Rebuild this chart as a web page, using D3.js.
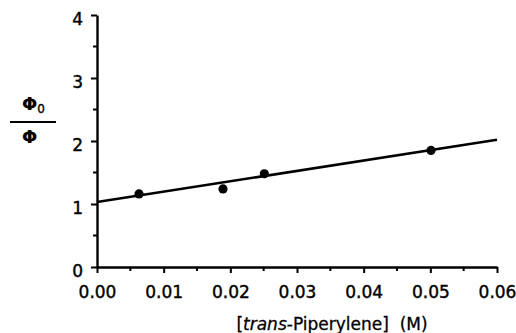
<!DOCTYPE html>
<html>
<head>
<meta charset="utf-8">
<script src="https://cdn.jsdelivr.net/npm/d3@7"></script>
<style>
  body { margin: 0; background: #fff; }
  text { font-family: "DejaVu Sans", Verdana, sans-serif; fill: #000; }
</style>
</head>
<body>
<div id="chart"></div>
<script>
// measured points: [trans-piperylene] (M) vs phi0/phi
const conc = [0.0063, 0.0189, 0.0251, 0.0501];
const ratio = [1.16, 1.24, 1.48, 1.85];

// fitted Stern-Volmer line, read at its two ends
const fitX = [0, 0.06];
const fitY = [1.03, 2.02];

const xTicks = [0, 0.01, 0.02, 0.03, 0.04, 0.05, 0.06];
const xMinor = [0.005, 0.015, 0.025, 0.035, 0.045, 0.055];
const yTicks = [0, 1, 2, 3, 4];
const yMinor = [0.5, 1.5, 2.5, 3.5];

const W = 516, H = 333;
const m = { left: 97, right: 19, top: 15, bottom: 66 };

const svg = d3.select('#chart').append('svg')
  .attr('width', W).attr('height', H);

const x = d3.scaleLinear().domain([0, 0.06]).range([m.left, W - m.right]);
const y = d3.scaleLinear().domain([0, 4]).range([H - m.bottom, m.top]);

const ink = '#000';

// axes
const xAxis = svg.append('g')
  .attr('transform', `translate(0,${y(0)})`)
  .call(d3.axisBottom(x).tickValues(xTicks).tickFormat(d3.format('.2f'))
    .tickSize(6).tickSizeOuter(0).tickPadding(13));

xAxis.append('g').selectAll('line')
  .data(xMinor).join('line')
  .attr('x1', d => x(d)).attr('x2', d => x(d))
  .attr('y1', 0).attr('y2', 4)
  .attr('stroke', ink).attr('stroke-width', 2);

const yAxis = svg.append('g')
  .attr('transform', `translate(${x(0)},0)`)
  .call(d3.axisLeft(y).tickValues(yTicks).tickFormat(d3.format('d'))
    .tickSize(6).tickSizeOuter(0).tickPadding(8));

yAxis.append('g').selectAll('line')
  .data(yMinor).join('line')
  .attr('x1', 0).attr('x2', -4)
  .attr('y1', d => y(d)).attr('y2', d => y(d))
  .attr('stroke', ink).attr('stroke-width', 2);

svg.selectAll('.domain').attr('stroke', ink).attr('stroke-width', 2.4);
svg.selectAll('.tick line').attr('stroke', ink).attr('stroke-width', 2);
svg.selectAll('.tick text')
  .attr('font-size', 17)
  .style('font-family', '"DejaVu Sans", Verdana, sans-serif')
  .style('stroke', ink).style('stroke-width', 0.4);
yAxis.selectAll('.tick text').attr('dy', '0.55em');

// fit line
const line = d3.line().x(d => x(d[0])).y(d => y(d[1]));
svg.append('path')
  .datum(d3.zip(fitX, fitY))
  .attr('d', line)
  .attr('fill', 'none')
  .attr('stroke', ink)
  .attr('stroke-width', 2.5);

// data points
svg.append('g').selectAll('circle')
  .data(d3.zip(conc, ratio)).join('circle')
  .attr('cx', d => x(d[0]))
  .attr('cy', d => y(d[1]))
  .attr('r', 4.6)
  .attr('fill', ink);

// x title
const xt = svg.append('text')
  .attr('x', 332).attr('y', 330)
  .attr('text-anchor', 'middle')
  .attr('font-size', 17)
  .style('white-space', 'pre')
  .style('stroke', ink).style('stroke-width', 0.3);
xt.append('tspan').text('[');
xt.append('tspan').attr('font-style', 'italic').text('trans');
xt.append('tspan').text('-Piperylene]  (M)');

// y title: phi0 / phi
const yl = svg.append('g');
const num = yl.append('text')
  .attr('x', 22).attr('y', 110)
  .attr('font-size', 18).attr('font-weight', 'bold');
num.append('tspan').text('Φ');
num.append('tspan').attr('font-size', 12).attr('font-weight', 'normal')
  .style('stroke', ink).style('stroke-width', 0.35)
  .attr('dy', 3).text('0');
yl.append('line')
  .attr('x1', 10).attr('x2', 56)
  .attr('y1', 122).attr('y2', 122)
  .attr('stroke', ink).attr('stroke-width', 2);
yl.append('text')
  .attr('x', 22).attr('y', 143)
  .attr('font-size', 18).attr('font-weight', 'bold')
  .text('Φ');
</script>
</body>
</html>
